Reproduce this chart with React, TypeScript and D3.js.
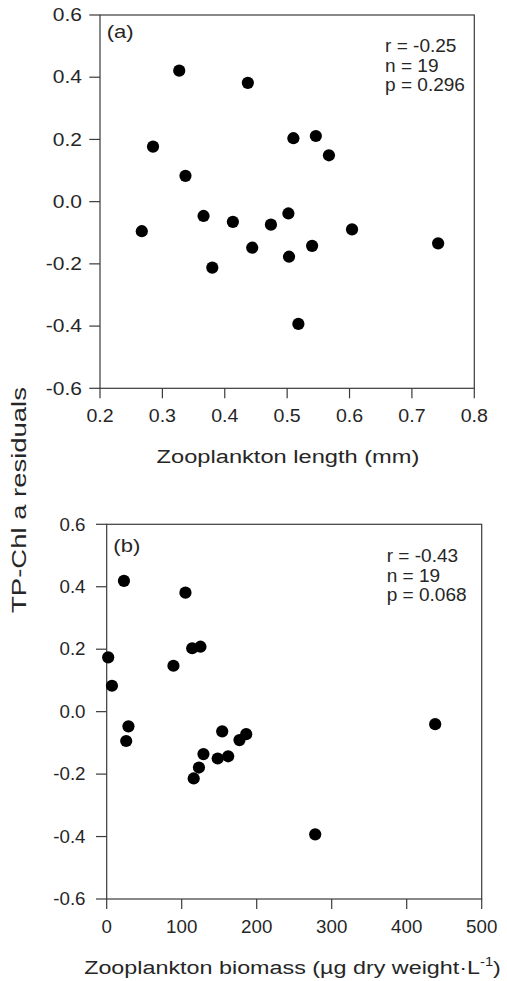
import React, { useEffect, useRef } from 'react';
import * as d3 from 'd3';

// Panel (a): zooplankton length (mm) vs TP-Chl a residuals
const lengthX = [0.327, 0.437, 0.285, 0.337, 0.510, 0.546, 0.567, 0.502, 0.267, 0.366, 0.413, 0.380, 0.444, 0.474, 0.503, 0.540, 0.604, 0.742, 0.518];
const lengthY = [0.421, 0.382, 0.177, 0.083, 0.204, 0.211, 0.149, -0.038, -0.095, -0.046, -0.065, -0.212, -0.148, -0.074, -0.177, -0.142, -0.089, -0.134, -0.393];

// Panel (b): zooplankton biomass vs TP-Chl a residuals
const biomassX = [23, 105, 2, 7, 89, 114, 125, 29, 26, 154, 186, 177, 129, 148, 162, 123, 116, 438, 278];
const biomassY = [0.419, 0.381, 0.174, 0.083, 0.147, 0.203, 0.208, -0.047, -0.094, -0.063, -0.072, -0.091, -0.136, -0.150, -0.143, -0.179, -0.214, -0.040, -0.393];

const residualTicks = [-0.6, -0.4, -0.2, 0.0, 0.2, 0.4, 0.6];
const lengthTicks = [0.2, 0.3, 0.4, 0.5, 0.6, 0.7, 0.8];
const biomassTicks = [0, 100, 200, 300, 400, 500];

const statsA = ['r = -0.25', 'n = 19', 'p = 0.296'];
const statsB = ['r = -0.43', 'n = 19', 'p = 0.068'];

const yTitle = 'TP-Chl a residuals';
const xTitleA = 'Zooplankton length (mm)';
const xTitleB = 'Zooplankton biomass (µg dry weight·L';

const FONT = '"Liberation Sans", Arial, Helvetica, sans-serif';
const AX = '#3a3a3a';
const TXT = '#262626';

export default function App() {
  const ref = useRef<SVGSVGElement | null>(null);

  useEffect(() => {
    const svg = d3.select(ref.current);
    svg.selectAll('*').remove();

    const fit = (t: any, target: number) => {
      const w = (t.node() as SVGTextElement).getBBox().width;
      if (w > 0) t.attr('transform', `scale(${target / w},1)`);
    };

    const panels = [
      {
        xs: lengthX, ys: lengthY, xDomain: [0.2, 0.8], xRange: [100, 474.3], yRange: [388.3, 15],
        xTicks: lengthTicks, xFmt: (v: number) => v.toFixed(1),
        yLabelX: 82, xTickScale: 1.12, yTickScale: 1.2,
        label: '(a)', labelX: 106.7, labelY: 38.4,
        stats: statsA, statsX: 385, statsY: [51.7, 72, 91],
        title: xTitleA, titleX: 288, titleY: 463.3, titleW: 263, sup: false,
      },
      {
        xs: biomassX, ys: biomassY, xDomain: [0, 500], xRange: [106.7, 481.7], yRange: [899, 524.3],
        xTicks: biomassTicks, xFmt: (v: number) => String(v),
        yLabelX: 85.5, xTickScale: 1.07, yTickScale: 1.07,
        label: '(b)', labelX: 113.3, labelY: 552,
        stats: statsB, statsX: 386.7, statsY: [561.5, 581.5, 600.5],
        title: xTitleB, titleX: 292.5, titleY: 974, titleW: 417, sup: true,
      },
    ];

    panels.forEach((p) => {
      const x = d3.scaleLinear().domain(p.xDomain).range(p.xRange);
      const y = d3.scaleLinear().domain([-0.6, 0.6]).range(p.yRange);
      const g = svg.append('g');
      const [x0, x1] = p.xRange;
      const [yb, yt] = p.yRange;

      // frame
      g.append('rect')
        .attr('x', x0).attr('y', yt).attr('width', x1 - x0).attr('height', yb - yt)
        .attr('fill', 'none').attr('stroke', AX).attr('stroke-width', 1.2);

      // y ticks
      residualTicks.forEach((v) => {
        g.append('line').attr('x1', x0 - 10.7).attr('x2', x0).attr('y1', y(v)).attr('y2', y(v))
          .attr('stroke', AX).attr('stroke-width', 1.2);
        const tg = g.append('g').attr('transform', `translate(${p.yLabelX},${y(v) + 6.2})`);
        tg.append('text').attr('text-anchor', 'end').attr('font-family', FONT).attr('font-size', 17.5)
          .attr('fill', TXT).attr('transform', `scale(${p.yTickScale},1)`).text(v.toFixed(1));
      });

      // x ticks
      p.xTicks.forEach((v) => {
        g.append('line').attr('x1', x(v)).attr('x2', x(v)).attr('y1', yb).attr('y2', yb + 10)
          .attr('stroke', AX).attr('stroke-width', 1.2);
        const tg = g.append('g').attr('transform', `translate(${x(v)},${yb + 34})`);
        tg.append('text').attr('text-anchor', 'middle').attr('font-family', FONT).attr('font-size', 17.5)
          .attr('fill', TXT).attr('transform', `scale(${p.xTickScale},1)`).text(p.xFmt(v));
      });

      // points
      g.selectAll('circle.pt').data(p.xs.map((d, i) => [d, p.ys[i]])).enter()
        .append('circle').attr('class', 'pt')
        .attr('cx', (d) => x(d[0])).attr('cy', (d) => y(d[1])).attr('r', 6.1).attr('fill', '#000');

      // panel label
      const lg = g.append('g').attr('transform', `translate(${p.labelX},${p.labelY})`);
      const lt = lg.append('text').attr('font-family', FONT).attr('font-size', 18.5).attr('fill', TXT).text(p.label);
      fit(lt, 27);

      // stats
      p.stats.forEach((s, i) => {
        const sg = g.append('g').attr('transform', `translate(${p.statsX},${p.statsY[i]})`);
        sg.append('text').attr('font-family', FONT).attr('font-size', 18.5).attr('fill', TXT)
          .attr('transform', 'scale(1.03,1)').text(s);
      });

      // x title
      const xg = g.append('g').attr('transform', `translate(${p.titleX},${p.titleY})`);
      const xt = xg.append('text').attr('text-anchor', 'middle').attr('font-family', FONT)
        .attr('font-size', 19).attr('fill', TXT);
      xt.append('tspan').text(p.title);
      if (p.sup) {
        xt.append('tspan').attr('font-size', 12).attr('dy', -8).text('-1');
        xt.append('tspan').attr('dy', 8).text(')');
      }
      fit(xt, p.titleW);
    });

    // shared y title
    const yg = svg.append('g').attr('transform', 'translate(26,500) rotate(-90)');
    const yt = yg.append('text').attr('text-anchor', 'middle').attr('font-family', FONT)
      .attr('font-size', 20).attr('fill', TXT).text(yTitle);
    fit(yt, 226);
  }, []);

  return (
    <svg
      ref={ref}
      width={507}
      height={981}
      style={{ position: 'absolute', left: 0, top: 0, background: '#fff' }}
    />
  );
}
